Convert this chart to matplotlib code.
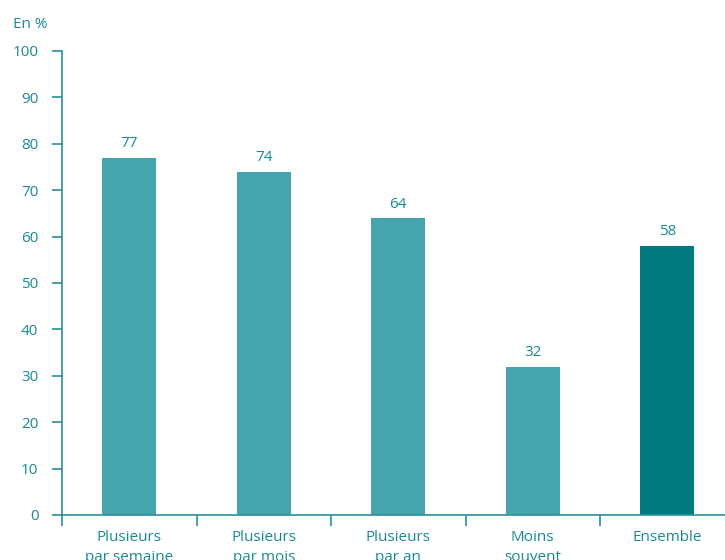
import matplotlib.pyplot as plt
import numpy as np

categories = ["Plusieurs\npar semaine", "Plusieurs\npar mois", "Plusieurs\npar an", "Moins\nsouvent", "Ensemble"]
values = [77, 74, 64, 32, 58]
bar_colors = ["#45a4ad", "#45a4ad", "#45a4ad", "#45a4ad", "#007a80"]
yticks = [0, 10, 20, 30, 40, 50, 60, 70, 80, 90, 100]

teal_text = "#1a8a92"
axis_col = "#2a9098"

plt.rcParams['font.family'] = ['Open Sans', 'DejaVu Sans']

fig = plt.figure(figsize=(7.25, 5.6), dpi=100)
# axes spans 5 category slots; the last slot runs past the right edge
ax = fig.add_axes([62 / 725, (560 - 515) / 560, 672.5 / 725, 464 / 560])

x = np.arange(len(categories))
ax.bar(x, values, width=0.40, color=bar_colors, zorder=2)

for xi, v in zip(x, values):
    ax.text(xi, v + 1.4, f"{v}", ha="center", va="bottom", color=teal_text, fontsize=11)

ax.set_xlim(-0.5, len(categories) - 0.5)
ax.set_ylim(0, 100)

ax.set_yticks(yticks)
ax.set_yticklabels([str(t) for t in yticks], color=teal_text, fontsize=11)
ax.tick_params(axis="y", length=7, width=1.2, color=axis_col, pad=10)

# category labels sit between boundary ticks
ax.set_xticks(np.arange(-0.5, len(categories) + 0.5, 1.0))
ax.set_xticklabels([])
ax.tick_params(axis="x", length=8, width=1.2, color=axis_col, direction="out")
for xi, lab in zip(x, categories):
    ax.text(xi, -3.3, lab, ha="center", va="top", color=teal_text, fontsize=11,
            linespacing=1.4, transform=ax.transData, clip_on=False)

for s in ["top", "right"]:
    ax.spines[s].set_visible(False)
ax.spines["left"].set_color(axis_col)
ax.spines["left"].set_linewidth(1.2)
ax.spines["bottom"].set_color(axis_col)
ax.spines["bottom"].set_linewidth(1.2)

fig.text(13 / 725, 1 - 24 / 560, "En %", ha="left", va="center", color=teal_text, fontsize=11)

fig.savefig("out.png", dpi=100)
